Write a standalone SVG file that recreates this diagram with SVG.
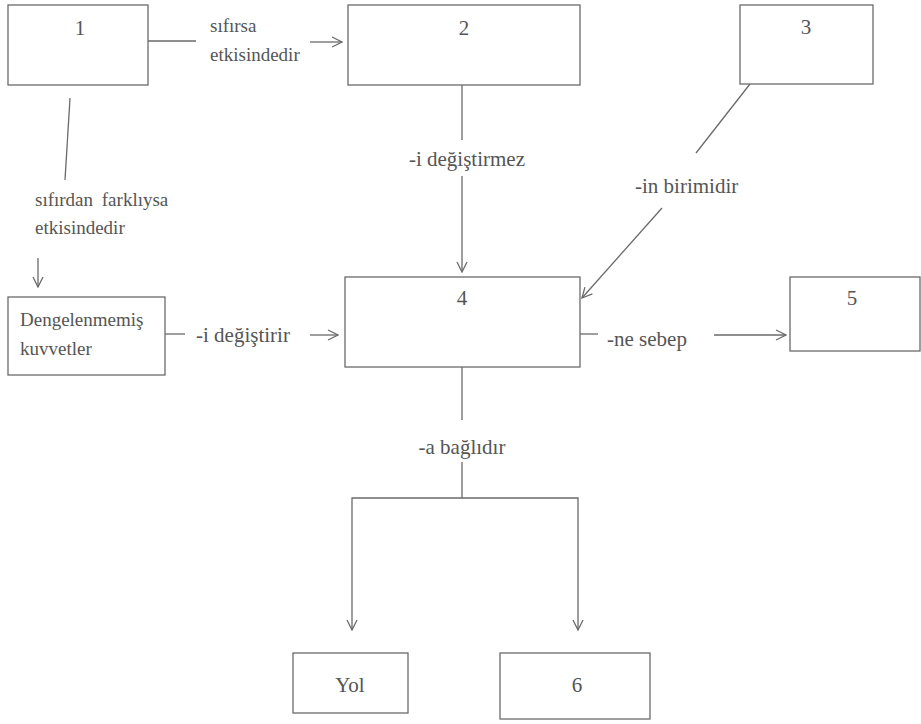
<svg xmlns="http://www.w3.org/2000/svg" width="921" height="724" viewBox="0 0 921 724">
<defs>
<style>
.box{fill:#fff;stroke:#6a6a6a;stroke-width:1.3}
.ln{fill:none;stroke:#6a6a6a;stroke-width:1.3}
text{font-family:'Liberation Serif','DejaVu Serif','Times New Roman',serif;fill:#555;font-size:21px}
.s{font-size:19px}
.m{text-anchor:middle}
</style>
<marker id="ah" viewBox="0 0 12 12" refX="11" refY="6" markerWidth="12" markerHeight="12" markerUnits="userSpaceOnUse" orient="auto">
<path d="M1,1 L11,6 L1,11" fill="none" stroke="#6a6a6a" stroke-width="1.3"/>
</marker>
</defs>
<rect width="921" height="724" fill="#fff"/>
<g id="connectors">
<line class="ln" x1="148" y1="41" x2="196" y2="41"/>
<line class="ln" x1="310" y1="42" x2="342" y2="42" marker-end="url(#ah)"/>
<line class="ln" x1="70" y1="98" x2="65" y2="180"/>
<line class="ln" x1="38" y1="258" x2="38" y2="287" marker-end="url(#ah)"/>
<line class="ln" x1="462" y1="85" x2="462" y2="140"/>
<line class="ln" x1="462" y1="176" x2="462" y2="272" marker-end="url(#ah)"/>
<line class="ln" x1="750" y1="84" x2="696" y2="153"/>
<line class="ln" x1="662" y1="208" x2="582" y2="298" marker-end="url(#ah)"/>
<line class="ln" x1="165" y1="334" x2="185" y2="334"/>
<line class="ln" x1="310" y1="335" x2="338" y2="335" marker-end="url(#ah)"/>
<line class="ln" x1="580" y1="334" x2="598" y2="334"/>
<line class="ln" x1="714" y1="335" x2="786" y2="335" marker-end="url(#ah)"/>
<line class="ln" x1="462" y1="367" x2="462" y2="420"/>
<polyline class="ln" points="462,462 462,498 352,498 352,630" marker-end="url(#ah)"/>
<polyline class="ln" points="462,498 578,498 578,630" marker-end="url(#ah)"/>
<text class="s" x="210" y="32">sıfırsa</text>
<text class="s" x="210" y="61">etkisindedir</text>
<text class="s" x="35" y="206" word-spacing="4">sıfırdan farklıysa</text>
<text class="s" x="35" y="234">etkisindedir</text>
<text class="m" x="467" y="166">-i değiştirmez</text>
<text x="635" y="193">-in birimidir</text>
<text x="196" y="342">-i değiştirir</text>
<text x="607" y="346">-ne sebep</text>
<text class="m" x="462" y="454">-a bağlıdır</text>
</g>
<g id="n1"><rect class="box" x="8" y="5" width="140" height="80"/><text class="m" x="80" y="35">1</text></g>
<g id="n2"><rect class="box" x="348" y="5" width="232" height="80"/><text class="m" x="464" y="35">2</text></g>
<g id="n3"><rect class="box" x="740" y="5" width="133" height="79"/><text class="m" x="806" y="34">3</text></g>
<g id="n4"><rect class="box" x="345" y="277" width="235" height="90"/><text class="m" x="462" y="305">4</text></g>
<g id="n5"><rect class="box" x="790" y="277" width="130" height="74"/><text class="m" x="852" y="305">5</text></g>
<g id="nd"><rect class="box" x="8" y="297" width="157" height="78"/><text class="s" x="20" y="326">Dengelenmemiş</text><text class="s" x="20" y="355">kuvvetler</text></g>
<g id="nyol"><rect class="box" x="293" y="653" width="115" height="60"/><text class="m" x="350" y="692">Yol</text></g>
<g id="n6"><rect class="box" x="500" y="653" width="150" height="66"/><text class="m" x="577" y="692">6</text></g>
</svg>
